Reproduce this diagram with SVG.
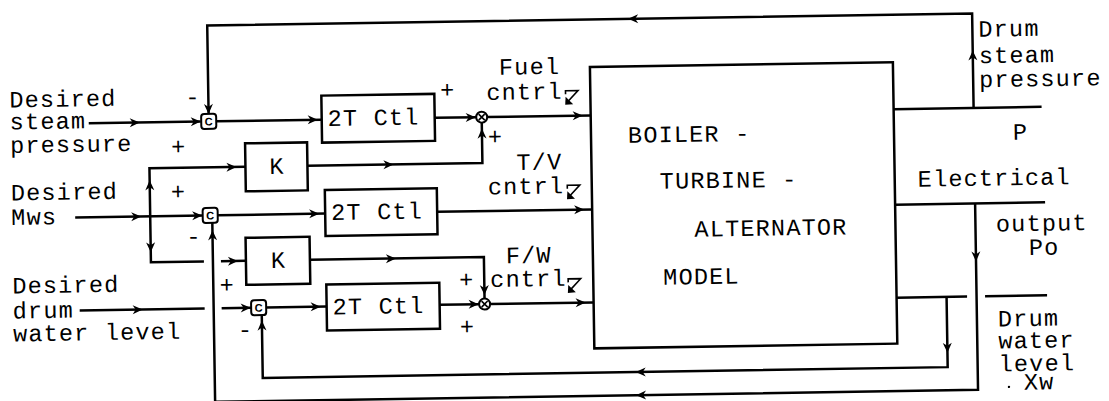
<svg xmlns="http://www.w3.org/2000/svg" width="1109" height="401" viewBox="0 0 1109 401">
<style>
.ln{fill:none;stroke:#000;stroke-width:2.5;stroke-linecap:butt;stroke-linejoin:miter}
.bx{fill:#fff;stroke:#000;stroke-width:2.5}
.t{font-family:"Liberation Mono","DejaVu Sans Mono",monospace;font-size:23.5px;letter-spacing:1.2px;fill:#000}
.m{text-anchor:middle;letter-spacing:0}
.c{font-family:"Liberation Sans",Arial,sans-serif;font-size:11px;font-weight:bold;text-anchor:middle;fill:#000}
.jn{fill:#fff;stroke:#000;stroke-width:2}
.ptr{fill:none;stroke:#000;stroke-width:1.6}
</style>
<defs>
<path id="ar" d="M0,0 L-10,-4.5 L-7,0 L-10,4.5 Z"/>
<path id="al" d="M0,0 L10,-4.5 L7,0 L10,4.5 Z"/>
<path id="au" d="M0,0 L-4.5,10 L0,7 L4.5,10 Z"/>
<path id="ad" d="M0,0 L-4.5,-10 L0,-7 L4.5,-10 Z"/>
<g id="pointer">
<path class="ptr" d="M0.5,4 V0.5 H13 L3,11"/>
<path d="M0,14.5 L0.5,6.5 L8,14 Z" fill="#000"/>
</g>
</defs>
<rect width="1109" height="401" fill="#fff"/>
<g transform="rotate(-0.9 554 200)">
<g id="connectors">
<path class="ln" d="M90,116 H202"/>
<path class="ln" d="M217.5,116 H323"/>
<path class="ln" d="M975,114.5 V20 H210 V108.5"/>
<path class="ln" d="M203,256 H150 V162 H246"/>
<path class="ln" d="M308,162 H483 V121"/>
<path class="ln" d="M436,116 H478"/>
<path class="ln" d="M488,116 H592"/>
<path class="ln" d="M75,210 H202.5"/>
<path class="ln" d="M217.5,210 H325"/>
<path class="ln" d="M437,210 H592"/>
<path class="ln" d="M212,217.5 V396.5 H975 V210"/>
<path class="ln" d="M895,210 H1045"/>
<path class="ln" d="M220,256 H245"/>
<path class="ln" d="M309,256 H483 V298"/>
<path class="ln" d="M78,303 H203"/>
<path class="ln" d="M220,303 H249.5"/>
<path class="ln" d="M264.5,303 H325"/>
<path class="ln" d="M438,303 H478"/>
<path class="ln" d="M488,303 H592"/>
<path class="ln" d="M895,303 H965.5"/>
<path class="ln" d="M983.5,303 H1045.5"/>
<path class="ln" d="M945,303 V373.3 H260 V310.5"/>
<path class="ln" d="M895,114.5 H1043"/>
<use href="#ar" x="141" y="116"/>
<use href="#ar" x="202" y="116"/>
<use href="#ar" x="319" y="116"/>
<use href="#ar" x="237" y="162"/>
<use href="#ar" x="394" y="162"/>
<use href="#ar" x="477" y="116"/>
<use href="#ar" x="584" y="116"/>
<use href="#ar" x="141" y="210"/>
<use href="#ar" x="202" y="210"/>
<use href="#ar" x="319" y="210"/>
<use href="#ar" x="584" y="210"/>
<use href="#ar" x="237" y="256"/>
<use href="#ar" x="395" y="256"/>
<use href="#ar" x="141" y="303"/>
<use href="#ar" x="249" y="303"/>
<use href="#ar" x="319" y="303"/>
<use href="#ar" x="477" y="303"/>
<use href="#ar" x="584" y="303"/>
<use href="#al" x="631" y="20"/>
<use href="#al" x="633" y="373.3"/>
<use href="#al" x="633" y="396.5"/>
<use href="#au" x="975" y="57"/>
<use href="#au" x="150" y="174"/>
<use href="#au" x="212" y="225"/>
<use href="#au" x="260" y="316"/>
<use href="#au" x="483" y="127.5"/>
<use href="#ad" x="210" y="108.5"/>
<use href="#ad" x="150" y="246"/>
<use href="#ad" x="483" y="294"/>
<use href="#ad" x="975" y="268"/>
<use href="#ad" x="945" y="359"/>
</g>
<g id="j1"><rect class="jn" x="202.5" y="108.5" width="15" height="15" rx="3"/><text class="c" x="210" y="120">C</text></g>
<g id="j2"><rect class="jn" x="202.5" y="202.5" width="15" height="15" rx="3"/><text class="c" x="210" y="214">C</text></g>
<g id="j3"><rect class="jn" x="249.5" y="295.5" width="15" height="15" rx="3"/><text class="c" x="257" y="307">C</text></g>
<g id="m1"><circle class="jn" cx="483" cy="116" r="5.5"/><path class="ptr" d="M480,113 L486,119 M486,113 L480,119"/></g>
<g id="m2"><circle class="jn" cx="483" cy="303" r="5.5"/><path class="ptr" d="M480,300 L486,306 M486,300 L480,306"/></g>
<g id="ctl1"><rect class="bx" x="323" y="92" width="113" height="47"/><text class="t" x="329" y="122.5">2T Ctl</text></g>
<g id="k1"><rect class="bx" x="246" y="138.5" width="62" height="48"/><text class="t m" x="277" y="169.5">K</text></g>
<g id="ctl2"><rect class="bx" x="325" y="186.5" width="112" height="46"/><text class="t" x="331" y="216.5">2T Ctl</text></g>
<g id="k2"><rect class="bx" x="245" y="233" width="64" height="47"/><text class="t m" x="277" y="263.5">K</text></g>
<g id="ctl3"><rect class="bx" x="325" y="281" width="113" height="46"/><text class="t" x="331" y="311">2T Ctl</text></g>
<g id="boiler"><rect class="bx" x="592" y="67.5" width="303" height="281.5"/>
<text class="t"><tspan x="629" y="144">BOILER -</tspan><tspan x="660" y="190.5">TURBINE -</tspan><tspan x="694" y="239">ALTERNATOR</tspan><tspan x="662" y="286.5">MODEL</tspan></text></g>
<g id="labels">
<text class="t"><tspan x="11" y="99">Desired</tspan><tspan x="11" y="121">steam</tspan><tspan x="11" y="144.5">pressure</tspan></text>
<text class="t"><tspan x="11" y="192">Desired</tspan><tspan x="11" y="216.5">Mws</tspan></text>
<text class="t"><tspan x="11" y="285">Desired</tspan><tspan x="11" y="310">drum</tspan><tspan x="11" y="333">water level</tspan></text>
<text class="t"><tspan x="501" y="74">Fuel</tspan><tspan x="488" y="99">cntrl</tspan></text>
<text class="t"><tspan x="517" y="169.5">T/V</tspan><tspan x="488" y="193.5">cntrl</tspan></text>
<text class="t"><tspan x="505" y="262.5">F/W</tspan><tspan x="489" y="286">cntrl</tspan></text>
<use href="#pointer" x="566.7" y="90.5"/>
<use href="#pointer" x="567" y="185"/>
<use href="#pointer" x="566.4" y="278.6"/>
<text class="t"><tspan x="981" y="43.5">Drum</tspan><tspan x="981" y="70">steam</tspan><tspan x="981" y="94">pressure</tspan></text>
<text class="t m" x="1021" y="147">P</text>
<text class="t" x="918" y="192.5">Electrical</text>
<text class="t"><tspan x="995.5" y="238.5">output</tspan><tspan x="1028" y="262.5">Po</tspan></text>
<text class="t"><tspan x="996" y="333.5">Drum</tspan><tspan x="996" y="355.5">water</tspan><tspan x="996" y="378.5">level</tspan><tspan x="1021" y="397">Xw</tspan></text>
<circle cx="1006" cy="394" r="1.2" fill="#000"/>
<text class="t m" x="194" y="99">-</text>
<text class="t m" x="179" y="148.5">+</text>
<text class="t m" x="178" y="193.5">+</text>
<text class="t m" x="193" y="238.5">-</text>
<text class="t m" x="225.5" y="287.5">+</text>
<text class="t m" x="243" y="332.5">-</text>
<text class="t m" x="449" y="96">+</text>
<text class="t m" x="496" y="143.5">+</text>
<text class="t m" x="465" y="286">+</text>
<text class="t m" x="465" y="333">+</text>
</g>
</g>
</svg>
